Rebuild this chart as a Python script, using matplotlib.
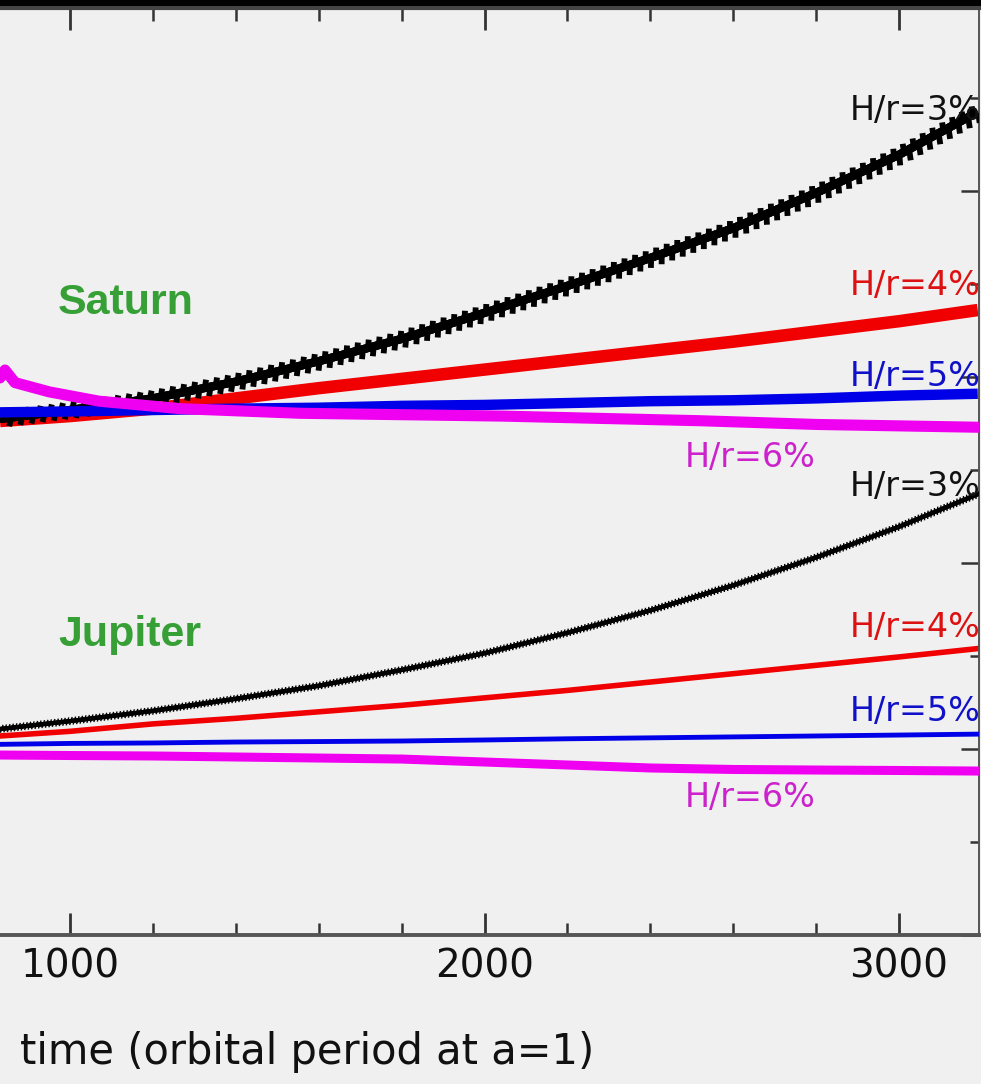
import matplotlib
matplotlib.use("Agg")
import matplotlib.pyplot as plt
from matplotlib import patheffects as pe
from matplotlib.ticker import MultipleLocator, FixedLocator
from matplotlib.patches import Rectangle

# ---------------- data (time in orbital periods, semi-major axis) ----------------
time_grid = [831, 1000, 1200, 1400, 1600, 1800, 2000, 2200, 2400, 2600, 2800, 3000, 3190]

saturn_h3 = [1.355, 1.3645, 1.377, 1.395, 1.417, 1.441, 1.469, 1.498, 1.528, 1.560, 1.598, 1.639, 1.685]
saturn_h4 = [1.3527, 1.358, 1.366, 1.377, 1.388, 1.398, 1.408, 1.418, 1.428, 1.438, 1.449, 1.460, 1.472]
saturn_h5 = [1.362, 1.363, 1.3645, 1.366, 1.367, 1.369, 1.370, 1.372, 1.374, 1.375, 1.377, 1.380, 1.382]
saturn_h6_time = [831, 843, 867, 950, 1070, 1265, 1555, 2040, 2520, 2800, 3190]
saturn_h6 = [1.399, 1.4075, 1.394, 1.384, 1.374, 1.366, 1.361, 1.358, 1.353, 1.349, 1.346]

jupiter_h3 = [1.0215, 1.030, 1.041, 1.054, 1.068, 1.085, 1.103, 1.125, 1.149, 1.176, 1.206, 1.239, 1.274]
jupiter_h4 = [1.014, 1.019, 1.027, 1.033, 1.040, 1.047, 1.055, 1.063, 1.072, 1.081, 1.090, 1.099, 1.108]
jupiter_h5 = [1.005, 1.006, 1.0065, 1.0075, 1.008, 1.0086, 1.0097, 1.011, 1.012, 1.013, 1.014, 1.015, 1.016]
jupiter_h6 = [0.9935, 0.993, 0.9925, 0.9914, 0.9903, 0.9892, 0.986, 0.9828, 0.9796, 0.978, 0.9774, 0.9769, 0.9763]

xtick_values = [1000, 2000, 3000]
xtick_labels = ["1000", "2000", "3000"]
curve_labels = ["H/r=3%", "H/r=4%", "H/r=5%", "H/r=6%"]
planet_names = ["Saturn", "Jupiter"]
xlabel_text = "time (orbital period at a=1)"

# ---------------- figure ----------------
BG = "#f0f0f0"
fig = plt.figure(figsize=(9.81, 10.84), dpi=100, facecolor=BG)
W, H = 981.0, 1084.0
ax = fig.add_axes([0.0, (H - 935) / H, 979 / W, 927 / H])
ax.set_facecolor(BG)
ax.set_xlim(831, 3193)
ax.set_ylim(0.8, 1.7968)

C_BLACK = "#000000"
C_RED = "#f00000"
C_BLUE = "#0000e8"
C_MAG = "#f000f0"

zig = [pe.withTickedStroke(spacing=8.0, angle=70, length=0.75, linewidth=4.2, foreground="k"),
       pe.withTickedStroke(offset=(4.0, 0), spacing=8.0, angle=-110, length=0.75,
                           linewidth=4.2, foreground="k"),
       pe.Normal()]
zig_thin = [pe.withTickedStroke(spacing=2.5, angle=65, length=1.0, linewidth=1.0, foreground="k"),
            pe.withTickedStroke(spacing=2.5, angle=-115, length=1.0, linewidth=1.0, foreground="k"),
            pe.Normal()]

# Saturn (thick)
ax.plot(time_grid, saturn_h3, color=C_BLACK, lw=6.0, path_effects=zig, zorder=3,
        solid_capstyle="butt")
ax.plot(time_grid, saturn_h4, color=C_RED, lw=9.0, zorder=2, solid_capstyle="butt")
ax.plot(time_grid, saturn_h5, color=C_BLUE, lw=7.5, zorder=4, solid_capstyle="butt")
ax.plot(saturn_h6_time, saturn_h6, color=C_MAG, lw=8.0, zorder=5, solid_capstyle="round")

# Jupiter (thin)
ax.plot(time_grid, jupiter_h3, color=C_BLACK, lw=3.0, path_effects=zig_thin, zorder=3)
ax.plot(time_grid, jupiter_h4, color=C_RED, lw=4.0, zorder=2)
ax.plot(time_grid, jupiter_h5, color=C_BLUE, lw=3.5, zorder=4)
ax.plot(time_grid, jupiter_h6, color=C_MAG, lw=6.5, zorder=5)

# curve labels
lab_font = dict(family="DejaVu Sans", fontsize=24, va="center", ha="left", clip_on=False, zorder=6)
ax.text(2882, 1.687, curve_labels[0], color="#111111", **lab_font)
ax.text(2882, 1.498, curve_labels[1], color="#dd1111", **lab_font)
ax.text(2882, 1.401, curve_labels[2], color="#1010c8", **lab_font)
ax.text(2484, 1.313, curve_labels[3], color="#cc22cc", **lab_font)
ax.text(2882, 1.282, curve_labels[0], color="#111111", **lab_font)
ax.text(2882, 1.131, curve_labels[1], color="#dd1111", **lab_font)
ax.text(2882, 1.040, curve_labels[2], color="#1010c8", **lab_font)
ax.text(2484, 0.948, curve_labels[3], color="#cc22cc", **lab_font)

name_font = dict(family="Liberation Sans", fontsize=31, fontweight="bold", color="#36a036",
                 va="center", ha="left", zorder=6)
ax.text(971, 1.4796, planet_names[0], **name_font)
ax.text(971, 1.1226, planet_names[1], **name_font)

# ticks
ax.xaxis.set_major_locator(FixedLocator(xtick_values))
ax.set_xticklabels(xtick_labels)
ax.xaxis.set_minor_locator(MultipleLocator(200))
ax.yaxis.set_major_locator(MultipleLocator(0.2))
ax.yaxis.set_minor_locator(MultipleLocator(0.1))
ax.tick_params(axis="x", which="major", direction="in", length=16, width=2.0, color="#333333",
               top=True, bottom=True, labelsize=28, pad=9, labelcolor="#111111")
ax.tick_params(axis="x", which="minor", direction="in", length=9, width=1.8, color="#333333",
               top=True, bottom=True)
ax.tick_params(axis="y", which="major", direction="in", length=13, width=1.8, color="#333333",
               left=False, right=True, labelleft=False, labelright=False)
ax.tick_params(axis="y", which="minor", direction="in", length=6.5, width=1.8, color="#333333",
               left=False, right=True)
for lab in ax.get_xticklabels():
    lab.set_family("DejaVu Sans")

ax.spines["left"].set_visible(False)
ax.spines["bottom"].set_color("#555555")
ax.spines["bottom"].set_linewidth(2.8)
ax.spines["right"].set_color("#555555")
ax.spines["right"].set_linewidth(1.4)
ax.spines["top"].set_color("#444444")
ax.spines["top"].set_linewidth(3.0)

# dark band at the very top of the frame
fig.add_artist(Rectangle((0, 1 - 6 / H), 1, 6 / H, transform=fig.transFigure,
                         facecolor="#000000", edgecolor="none", zorder=10))

fig.text(20 / W, (H - 1052) / H, xlabel_text, family="DejaVu Sans", fontsize=30,
         ha="left", va="center", color="#111111")

fig.savefig("out.png", dpi=100, facecolor=BG)
